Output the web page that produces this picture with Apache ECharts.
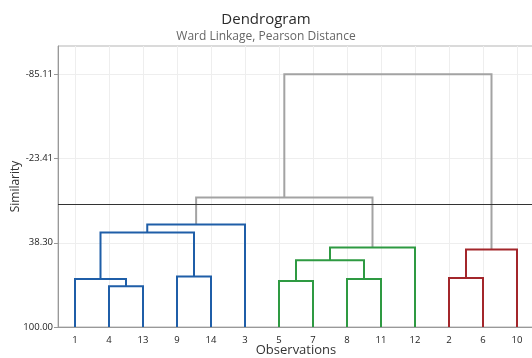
<!DOCTYPE html>
<html>
<head>
<meta charset="utf-8">
<script src="https://cdn.jsdelivr.net/npm/echarts@6/dist/echarts.min.js"></script>
<style>
  html, body { margin: 0; padding: 0; background: #fff; }
  #chart { width: 532px; height: 358px; }
</style>
</head>
<body>
<div id="chart"></div>
<script>
// Leaf order along the x axis
const leaves = ['1', '4', '13', '9', '14', '3', '5', '7', '8', '11', '12', '2', '6', '10'];

// Similarity tick values on the y axis
const simTicks = [-85.11, -23.41, 38.30, 100.00];

// Cluster joins: [id, left child, right child, similarity, cluster]
const joinIds    = ['m1', 'm2', 'm3', 'm4', 'm5', 'm6', 'm7', 'm8', 'm9', 'm10', 'm11', 'm12', 'm13'];
const joinLeft   = ['4',  '1',  '9',  'm2', 'm4', '5',  '8',  'm6', 'm8', '2',   'm10', 'm5',  'm12'];
const joinRight  = ['13', 'm1', '14', 'm3', '3',  '7',  '11', 'm7', '12', '6',   '10',  'm9',  'm11'];
const joinSim    = [70.2, 64.8, 63.0, 30.8, 24.9, 66.3, 64.8, 51.1, 41.8, 64.1,  43.2,  5.1,   -85.11];
const joinGroup  = ['a',  'a',  'a',  'a',  'a',  'b',  'b',  'b',  'b',  'c',   'c',   'top', 'top'];

// Similarity level of the cut line
const cutLevel = 10.2;

const groupColors = { a: '#1f5ea8', b: '#2e9a42', c: '#a3262b', top: '#a3a3a3' };

// Node positions: leaves sit at 1..n, joins at the midpoint of their children
const nodePos = {};
leaves.forEach((name, i) => { nodePos[name] = { x: i + 1, y: 100 }; });

const series = [];
joinIds.forEach((id, i) => {
  const l = nodePos[joinLeft[i]];
  const r = nodePos[joinRight[i]];
  const h = joinSim[i];
  nodePos[id] = { x: (l.x + r.x) / 2, y: h };
  series.push({
    type: 'line',
    data: [[l.x, l.y], [l.x, h], [r.x, h], [r.x, r.y]],
    showSymbol: false,
    symbol: 'none',
    silent: true,
    animation: false,
    lineStyle: { color: groupColors[joinGroup[i]], width: 2, join: 'miter', cap: 'butt' },
    z: joinGroup[i] === 'top' ? 2 : 3
  });
});

// Horizontal cut line across the plot
series.push({
  type: 'line',
  data: [],
  silent: true,
  animation: false,
  markLine: {
    silent: true,
    symbol: ['none', 'none'],
    label: { show: false },
    lineStyle: { color: '#333', width: 1, type: 'solid' },
    data: [{ yAxis: cutLevel }]
  }
});

const chart = echarts.init(document.getElementById('chart'), null, { renderer: 'canvas' });
const font = "'Open Sans', 'Noto Sans', sans-serif";

chart.setOption({
  animation: false,
  backgroundColor: '#fff',
  textStyle: { fontFamily: font },
  title: {
    text: 'Dendrogram',
    subtext: 'Ward Linkage, Pearson Distance',
    left: 'center',
    top: 7,
    itemGap: 4,
    textStyle: { fontFamily: font, fontSize: 15, fontWeight: 'normal', color: '#2b2b2b' },
    subtextStyle: { fontFamily: font, fontSize: 12, color: '#666' }
  },
  grid: {
    left: 58, right: -2, top: 46, bottom: 31,
    outerBoundsMode: 'none',
    containLabel: false,
    show: true, borderColor: '#b5b5b5', borderWidth: 1, backgroundColor: '#fff'
  },
  xAxis: {
    type: 'value',
    min: 0.5,
    max: leaves.length + 0.5,
    name: 'Observations',
    nameLocation: 'middle',
    nameGap: 17,
    nameMoveOverlap: false,
    nameTextStyle: { fontFamily: font, fontSize: 13, color: '#333' },
    axisLine: { show: true, onZero: false, lineStyle: { color: '#999', width: 1 } },
    axisTick: { show: false, customValues: leaves.map((_, i) => i + 1) },
    axisLabel: {
      customValues: leaves.map((_, i) => i + 1),
      formatter: v => leaves[Math.round(v) - 1],
      fontFamily: font, fontSize: 9.5, color: '#222', margin: 8
    },
    splitLine: { show: true, lineStyle: { color: '#eeeeee', width: 1 } }
  },
  yAxis: {
    type: 'value',
    inverse: true,
    min: -105.9,
    max: 100,
    name: 'Similarity',
    nameLocation: 'middle',
    nameGap: 36,
    nameMoveOverlap: false,
    nameTextStyle: { fontFamily: font, fontSize: 12, color: '#333' },
    axisLine: { show: true, onZero: false, lineStyle: { color: '#999', width: 1 } },
    axisTick: { show: true, length: 4, customValues: simTicks, lineStyle: { color: '#999' } },
    axisLabel: {
      customValues: simTicks,
      formatter: v => v.toFixed(2),
      fontFamily: font, fontSize: 9.5, color: '#222', margin: 5
    },
    splitLine: { show: true, lineStyle: { color: '#eeeeee', width: 1 } }
  },
  series: series
});
</script>
</body>
</html>
